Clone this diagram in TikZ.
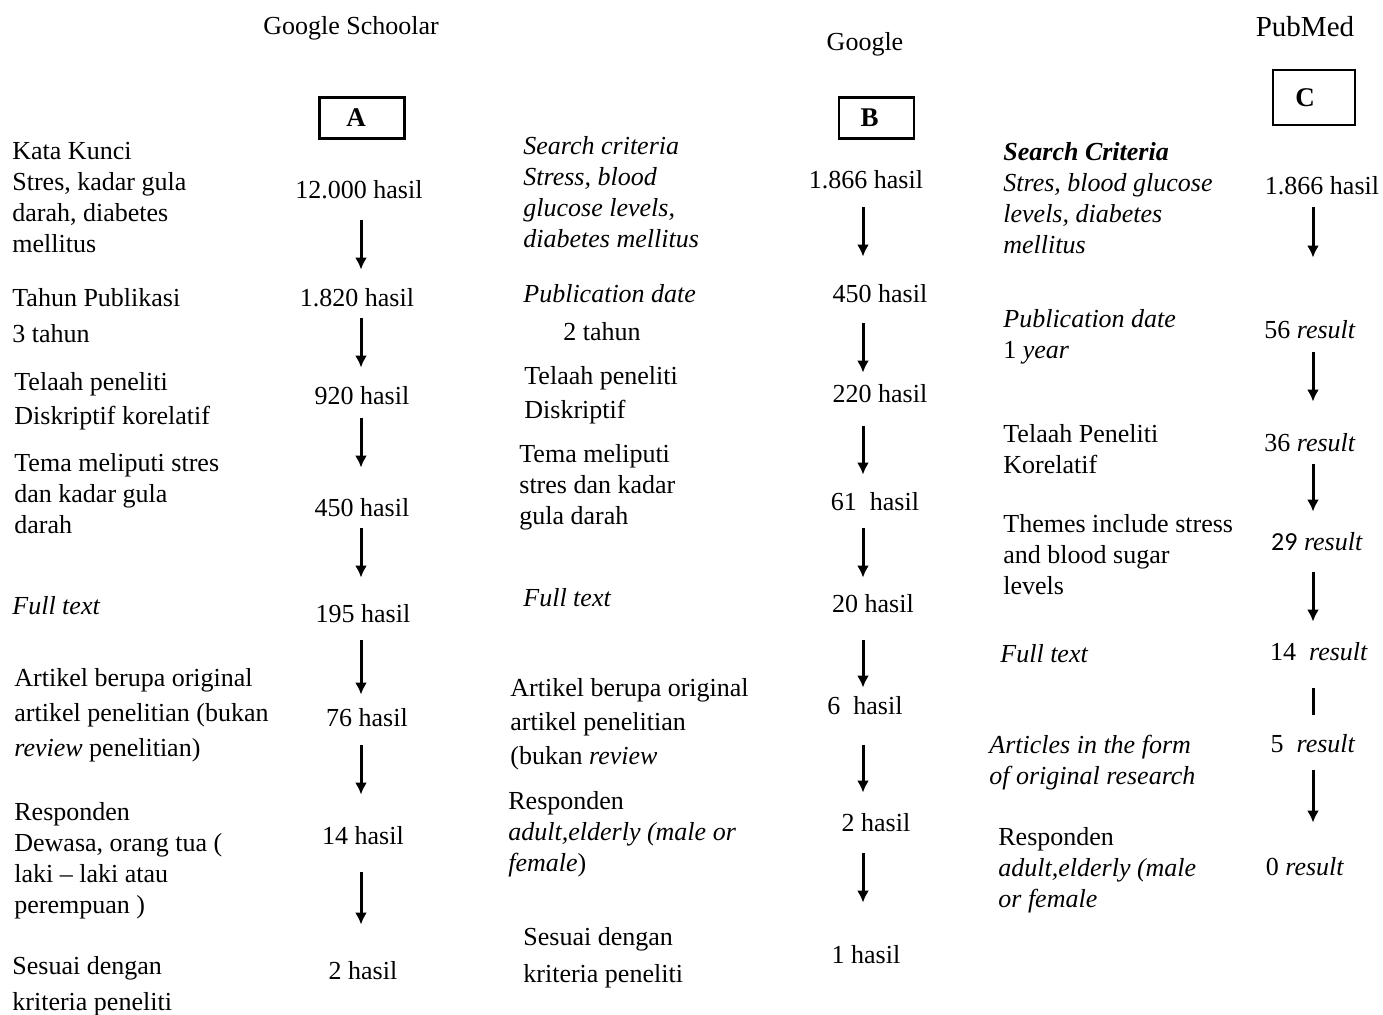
\documentclass[tikz,border=0pt]{standalone}
\usepackage{fontspec}
\setmainfont{Liberation Serif}
\newfontfamily\calibri{Carlito}
\usetikzlibrary{arrows.meta,positioning}

\begin{document}
\begin{tikzpicture}[x=0.5pt,y=-0.5pt,% one unit = one pixel of the layout
					every node/.style={
						inner sep=0pt,
						font=\fontsize{13}{15.5}\selectfont
						},
					crit/.style={anchor=west,align=left},
					res/.style={text height=9pt,text depth=0pt},
					head/.style={font=\fontsize{13}{15}\selectfont},
					letterbox/.style={draw,line width=1.4pt,font=\fontsize{13.5}{15}\selectfont\bfseries},
					flow/.style={-{Latex[length=6pt,width=6pt]},line width=1.5pt}
					]
\useasboundingbox (0,0) rectangle (1383,1015);
\coordinate (colA) at (361,0);
\coordinate (colB) at (863,0);
\coordinate (colC) at (1313,0);
% headings and boxes
\node[head](HA) at (351,28) {Google Schoolar};
\node[head](HB) at (865,44) {Google};
\node[font=\fontsize{14.5}{17}\selectfont](HC) at (1305,27) {PubMed};
\node[letterbox,minimum width=42.5pt,minimum height=20.5pt](BA) at (362,118) {A\kern6pt};
\node[letterbox,minimum width=37.5pt,minimum height=20.5pt](BB) at (876.5,118) {B\kern7pt};
\node[letterbox,minimum width=41pt,minimum height=27.5pt](BC) at (1314,97.5) {C\kern9pt};
% Google Schoolar
\node[crit](LA1) at (12,198) {Kata Kunci\\Stres, kadar gula\\darah, diabetes\\mellitus};
\node[crit](LA2) at (12,316) {Tahun Publikasi\\[2.5pt]3 tahun};
\node[crit](LA3) at (14,401) {Telaah peneliti\\[1.5pt]Diskriptif korelatif};
\node[crit](LA4) at (14,494) {Tema meliputi stres\\dan kadar gula\\darah};
\node[crit](LA5) at (12,606) {\textit{Full text}};
\node[crit](LA6) at (14,715) {Artikel berupa original\\[2pt]artikel penelitian (bukan\\[2pt]\textit{review} penelitian)};
\node[crit](LA7) at (14,861) {Responden\\Dewasa, orang tua (\\laki -- laki atau\\perempuan )};
\node[crit](LA8) at (12,986) {Sesuai dengan\\[2.5pt]kriteria peneliti};
\node[res](RA1) at (359,190) {12.000 hasil};
\node[res](RA2) at (357,298) {1.820 hasil};
\node[res](RA3) at (362,396) {920 hasil};
\node[res](RA4) at (362,508) {450 hasil};
\node[res](RA5) at (363,614) {195 hasil};
\node[res](RA6) at (367,718) {76 hasil};
\node[res](RA7) at (363,836) {14 hasil};
\node[res](RA8) at (363,970) {2 hasil};
% Google
\node[crit](LB1) at (523,192) {\textit{Search criteria}\\\textit{Stress, blood}\\\textit{glucose levels,}\\\textit{diabetes mellitus}};
\node[crit](LB2) at (523,294) {\textit{Publication date}};
\node[crit](LB3) at (563,332) {2 tahun};
\node[crit](LB4) at (524,395) {Telaah peneliti\\[1.5pt]Diskriptif};
\node[crit](LB5) at (519,487) {Tema meliputi\\stres dan kadar\\gula darah};
\node[crit](LB6) at (523,598) {\textit{Full text}};
\node[crit](LB7) at (510,724) {Artikel berupa original\\[1.5pt]artikel penelitian\\[1.5pt](bukan \textit{review}};
\node[crit](LB8) at (508,834) {Responden\\\textit{adult,elderly (male or}\\\textit{female})};
\node[crit](LB9) at (523,958) {Sesuai dengan\\[3pt]kriteria peneliti};
\node[res](RB1) at (866,180) {1.866 hasil};
\node[res](RB2) at (880,294) {450 hasil};
\node[res](RB3) at (880,394) {220 hasil};
\node[res](RB4) at (875,502) {61\ \ hasil};
\node[res](RB5) at (873,604) {20 hasil};
\node[res](RB6) at (865,706) {6\ \ hasil};
\node[res](RB7) at (876,823) {2 hasil};
\node[res](RB8) at (866,955) {1 hasil};
% PubMed
\node[crit](LC1) at (1003,198) {\textbf{\textit{Search Criteria}}\\\textit{Stres, blood glucose}\\\textit{levels, diabetes}\\\textit{mellitus}};
\node[crit](LC2) at (1003,337) {\textit{Publication date}\\1 \textit{year}};
\node[crit](LC3) at (1003,449) {Telaah Peneliti\\Korelatif};
\node[crit](LC4) at (1003,555) {Themes include stress\\and blood sugar\\levels};
\node[crit](LC5) at (1000,654) {\textit{Full text}};
\node[crit](LC6) at (989,763) {\textit{Articles in the form}\\\textit{of original research}};
\node[crit](LC7) at (998,870) {Responden\\\textit{adult,elderly (male}\\\textit{or female}};
\node[res](RC1) at (1322,186) {1.866 hasil};
\node[res](RC2) at (1310,330) {56 \textit{result}};
\node[res](RC3) at (1310,443) {36 \textit{result}};
\node[res](RC4) at (1317,542) {{\calibri 29} \textit{result}};
\node[res](RC5) at (1319,652) {14\ \ \textit{result}};
\node[res](RC6) at (1313,744) {5\ \ \textit{result}};
\node[res](RC7) at (1305,867) {0 \textit{result}};
% arrows
\foreach \from/\to/\gapa/\gapb in {RA1/RA2/10.5pt/9.5pt,RA2/RA3/5.5pt/9.5pt,RA3/RA4/6.5pt/15.5pt,
		RA4/RA5/5.5pt/13.5pt,RA5/RA6/8.5pt/7pt,RA6/RA7/9pt/16pt,RA7/RA8/13.5pt/18pt}
	\draw[flow,shorten <=\gapa,shorten >=\gapb] (\from.south -| colA) -- (\to.north -| colA);
\foreach \from/\to/\gapa/\gapb in {RB1/RB2/9pt/14pt,RB2/RB3/10pt/6pt,RB3/RB4/11.5pt/9pt,
		RB4/RB5/8.5pt/8.5pt,RB5/RB6/13.5pt/4.5pt,RB6/RB7/15pt/10.5pt,RB7/RB8/10.5pt/21.5pt}
	\draw[flow,shorten <=\gapa,shorten >=\gapb] (\from.south -| colB) -- (\to.north -| colB);
\foreach \from/\to/\gapa/\gapb in {RC1/RC2/6pt/31.5pt,RC2/RC3/6.5pt/16pt,RC3/RC4/6pt/10.5pt,
		RC4/RC5/10.5pt/10.5pt,RC6/RC7/8.5pt/17.5pt}
	\draw[flow,shorten <=\gapa,shorten >=\gapb] (\from.south -| colC) -- (\to.north -| colC);
\draw[line width=1.5pt,shorten <=13.5pt,shorten >=10pt] (RC5.south -| colC) -- (RC6.north -| colC);
\end{tikzpicture}
\end{document}
